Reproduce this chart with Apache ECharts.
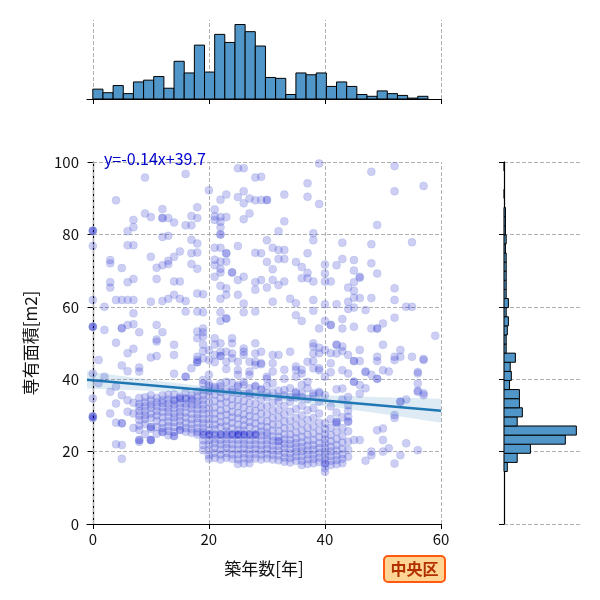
<!DOCTYPE html>
<html>
<head>
<meta charset="utf-8">
<script src="https://cdn.jsdelivr.net/npm/echarts@6/dist/echarts.min.js"></script>
<style>
  html, body { margin: 0; padding: 0; background: #fff; }
  #chart { width: 600px; height: 600px; }
</style>
</head>
<body>
<div id="chart"></div>
<script>
// --- data ---
const xTicks = [0, 20, 40, 60];
const regSlope = -0.14;
const regIntercept = 39.7;

// confidence band of the regression
const bandX  = [-1, 5, 10, 15, 20, 25, 30, 35, 40, 45, 50, 55, 60];
const bandLo = [37.4, 37.1, 36.8, 36.4, 35.9, 35.25, 34.5, 33.6, 32.6, 31.5, 30.4, 29.2, 28.0];
const bandHi = [42.2, 40.9, 39.8, 38.8, 37.9, 37.15, 36.5, 36.0, 35.6, 35.3, 35.0, 34.8, 34.6];

// marginal histograms
const topBinStart = 0;
const topBinWidth = 1.75;
const topCounts = [11, 7, 15, 6, 19, 21, 25, 12, 42, 29, 60, 30, 72, 63, 83, 75, 59, 24, 23, 5, 29, 27, 29, 14, 19, 14, 5, 3, 9, 6, 4, 1, 3];
const rightBinStart = 14.5;
const rightBinWidth = 2.515;
const rightCounts = [9, 36, 72, 167, 197, 36, 50, 42, 42, 15, 20, 17, 31, 6, 6, 9, 12, 6, 12, 6, 6, 6, 6, 6, 4, 6, 4, 4, 4, 0, 1, 0, 0, 1];

// scatter points, y >= 60
const ptsUpper = [
  [0,81],[0,81],[0,81],[0,76.8],[3,72.9],[3,72],[4,89.4],[5,70.7],[6,80.9],[6,77],[7,84],[7,82],[7,77],[9,95.7],[9,85.8],
  [10,84.8],[10,73.8],[11,70.8],[12,87],[12,84.5],[12,84.5],[12,79.3],[12,71.5],[13,84.5],[13,79.6],[13,72.7],[13,71.8],
  [14,83.3],[14,73.8],[15,75.3],[16,96.7],[16,82.5],[17,85.1],[17,82.5],[17,78.5],[17,74.8],[17,71.8],[18,87.5],[18,84.5],
  [18,77.5],[18,75],[18,70.5],[20,92.2],[21,86.9],[21,85],[21,84],[21,76.3],[21,73],[21,71.5],[22,89.6],[22,83.5],[22,84.8],
  [22,82],[22,80],[22,80],[22,76.3],[22,72.5],[22,70.5],[22,69.5],[23,91],[23,84.8],[23,74.8],[23,74.8],[23,72.5],[24,69.5],
  [24,69.5],[25,98.3],[25,90.3],[25,76.8],[26,98.3],[26,91.9],[26,88.6],[26,84.2],[27,89.9],[27,85.8],[28,95.7],[28,89.4],
  [28,74.9],[29,95.9],[29,89.5],[29,74.8],[30,89.5],[30,89.5],[30,78.4],[30,72.4],[31,76.3],[31,70.4],[32,80.9],[32,75.7],
  [32,73.2],[33,91],[33,83.6],[33,75.7],[33,73.2],[35,72.4],[36,71],[37,94.1],[37,90.4],[37,74.8],[37,69.4],[38,80.3],
  [38,78.4],[39,99.6],[39,88.4],[40,71.7],[40,69.2],[42,71.5],[43,77.7],[43,73.2],[45,72.9],[45,70],[46,68.3],[48,97.3],
  [48,77.3],[48,72],[49,82.6],[49,69.2],[52,98.9],[52,91.9],[52,65.1],[55,77.8],[57,93.4],
  [3,66.8],[3,65.3],[6,66.8],[7,67.7],[11,67.7],[14,67],[15,67],[21,68.3],[22,65.8],[23,65.1],[25,67.4],[26,68.3],[28,66.8],
  [29,67.4],[25,63.3],[26,60.9],[28,64.7],[0,61.9],[2,60],[4,61.9],[5,61.9],[6,61.9],[7,61.9],[10,61.4],[12,61.6],[13,62.2],
  [14,63.3],[15,62.2],[16,61.6],[18,63.7],[19,63.5],[22,62.2],[23,63.3],[31,67.4],[32,66],[30,65.3],[33,67],[36,67.9],
  [37,67.9],[38,67],[40,67],[41,67],[44,65.3],[45,66.8],[46,68],[45,64.4],[45,62.5],[46,62.4],[34,62.2],[31,61.4],[35,61],
  [38,61.9],[40,60.7],[42,60.7],[44,61.4],[48,62.4],[52,61.9],[54,60],[55,60]
];

// scatter points, 40 <= y < 60
const ptsMiddle = [
  [18,58.7],[19,58.5],[16,58.7],[7,58.2],[22,58.5],[23,56.8],[23,56.8],[22,56.1],[26,58.5],[28,58.7],
  [0,54.5],[0,54.5],[0,54.5],[2,53.6],[5,54.1],[5,54.1],[6,55],[7,55.2],[11,55],[12,53],[8,53],[4,50.1],[7,48.4],[6,47.2],
  [5,43.8],[1,45.3],[11,51],[11,50.4],[14,49.5],[14,46.7],[10,46],[8,43.2],[8,42.1],[14,41.5],[16,40.7],[16,40.7],[17,43],
  [18,46.2],[18,45.3],[18,44.7],[18,44.7],[19,54],[19,53],[19,51.8],[19,49.6],[19,47.8],[19,45.8],[18,53.2],[18,51.3],
  [20,48],[20,45.3],[20,41.2],[21,51.3],[21,49.6],[21,46.7],[21,44.7],[22,46.4],[22,46.4],[23,44.8],[23,42.8],[24,45.8],
  [24,51.3],[26,47.6],[27,44.8],[27,42.1],[29,44.1],[28,44.8],[29,47.6],[25,41.2],[27,41.2],[38,58.9],[44,59.4],[45,59.8],
  [47,59.1],[35,57.7],[36,56.1],[40,56.1],[41,55],[41,55],[43,56.6],[43,54],[45,54.5],[48,54],[49,54],[49,54],[50,55.4],
  [52,57],[59,52],[39,54],[38,49.9],[39,48.7],[40,48.1],[42,49.5],[42,49.5],[43,49],[43,47.8],[44,46.7],[45,45],[45,45],
  [46,45],[41,47.2],[41,44.4],[41,41.9],[39,47.2],[39,43],[38,45],[38,43],[36,42.6],[35,43.5],[35,42.6],[31,46.7],[34,47.6],
  [29,44.4],[30,40.1],[33,42.6],[33,40.1],[46,48.1],[47,42.1],[48,41.2],[49,40.1],[49,40.1],[50,49.5],[51,42.1],[52,46.2],
  [53,48.1],[55,46.2],[57,45.6],[49,46.2],[49,45],[56,41.6],[44,41.6],[11,46.4],[6,42.2],[22,49.9],[22,47.6],[23,47.6],
  [24,49.9],[24,47.1],[25,44.8],[25,42.5],[26,48.5],[26,46.7],[28,49.9],[28,47.1],[28,43.9],[30,40.7],[31,44.4],[31,42.1],
  [32,46.7],[35,40.7],[36,41.6],[37,44.8],[38,47.1],[38,49],[39,42.5],[40,40.7],[42,47.1],[43,42.5],[47,42],[50,42.5],
  [52,45.3],[53,46.2],[56,42],[57,45.3],[0,41.6],[2,40.7]
];

// scatter points, sparse part below 40
const ptsLower = [
  [0,34.7],[0,29.8],[0,29.6],[0,29.6],[0,29.2],[1,38.9],[3,30.5],[3,36.5],[4,37.9],[4,33.3],[4,28],[4,22],[5,35.6],[5,27.8],
  [5,27.8],[5,21.8],[5,18],[6,34.2],[6,31],[7,33.5],[7,30.5],[7,26.5],[45,39.3],[46,36],[56,38.8],[56,36.5],[56,36.8],
  [57,35.6],[57,36.1],[53,33.8],[53,33.8],[52,30.1],[52,29.3],[54,34.4],[50,23.2],[49,25.9],[48,20],[52,16.7],[54,22.3],
  [53,19],[50,26.4],[45,23.2],[46,23.2],[44,28.2],[44,29.6],[42,28.2],[42,28.2],[44,35.1],[44,32.8],[43,37.4],[46,38.4],
  [47,37.5],[42,37.2],[36,38.4],[37,39.3],[39,36.1],[35,36.1],[50,20],[51,20.9],[56,20.4],[48,19],[47,17.5],[45,39.3],
  [19,39.8],[20,38.8],[21,37.9],[22,38.8],[23,39.3],[24,37],[25,37.9],[26,39.3],[27,36.1],[28,37.9],[29,37],[30,36.1],
  [31,38.8],[32,35.1],[33,37],[34,35.1],[35,36.5],[36,35.1],[37,37.5],[38,36.1],[39,36.5],[40,35.6]
];

// dense block: year -> areas
const denseCols = [
  [8,  [34.8, 33.2, 32.4, 31.2, 30, 28.8, 27.2, 26, 23.2, 23.2, 22.7]],
  [9,  [35, 33.6, 32.5, 31.2, 30.1, 29, 27.6, 24.8]],
  [10, [35.6, 34.2, 33, 32.1, 30.5, 29.3, 26.8, 26.8, 26.3, 23.2, 23.2, 23.2]],
  [11, [34.8, 33.6, 32.5, 31.2, 30, 28.5, 26.8, 24.9]],
  [12, [35.5, 34.2, 33.4, 32.3, 31, 29.5, 28, 26.5, 25.4, 25.4]],
  [13, [35.7, 34.4, 33.3, 32.1, 31, 29.7, 28.3, 27, 25.7, 24.5]],
  [14, [35.8, 34.2, 34.2, 33, 32, 30.5, 29.5, 28.2, 26.8, 25.4, 24.3, 24.3]],
  [15, [35.2, 34.7, 34.7, 33.4, 32.2, 31, 29.8, 28.5, 27.2, 26, 26]],
  [16, [36.3, 34.7, 34.7, 33.3, 32.4, 30.8, 29.4, 28, 26.5, 25.5]],
  [17, [35.5, 34.2, 33, 32, 30.5, 29, 27.6, 26.3, 25.2, 34.7]],
  [18, [36.6, 35.2, 34, 33, 31.8, 30.4, 29.2, 28, 26.5, 25.4, 24.7]],
  [19, [38.8, 37, 35.5, 34.3, 33, 31.8, 30.5, 29, 27.8, 26.5, 25.4, 24.7, 24.7, 23.2, 21.8, 20.4]],
  [20, [38.2, 36.8, 35.5, 33.6, 32, 30.5, 29, 27.6, 26, 24.7, 24.7, 24.7, 23.2, 22, 20.5, 19, 18]],
  [21, [37.5, 35.8, 34, 32.2, 30.5, 29, 27.5, 26.2, 24.7, 24.7, 23.5, 22.3, 21, 19.6, 18.2]],
  [22, [38, 36.5, 34.8, 33.2, 31.4, 29.8, 28.2, 26.8, 24.7, 24.7, 24.7, 23.2, 22, 20.6, 19.2, 17.8]],
  [23, [37.2, 35.2, 33.6, 31.8, 30.2, 28.5, 27, 25.6, 24.7, 24.7, 23.5, 22.2, 21, 19.6, 18.3]],
  [24, [39, 36.5, 34.5, 32.8, 31, 29.5, 28, 26.4, 24.7, 24.7, 24.7, 23.4, 22, 20.7, 19.3, 18]],
  [25, [38.3, 36.2, 34.3, 32.5, 30.7, 29.2, 27.5, 26, 24.7, 24.7, 24.7, 24.7, 23.3, 22, 20.6, 19.3, 17.9, 16.6]],
  [26, [38.5, 36, 34, 32.2, 30.3, 28.8, 27.3, 25.8, 24.7, 24.7, 24.7, 23.3, 22.1, 20.8, 19.5, 18.2, 16.7]],
  [27, [37.5, 35.4, 33.4, 31.5, 29.8, 28.2, 26.8, 24.7, 24.7, 24.7, 23.2, 21.9, 20.6, 19.3, 18, 16.8]],
  [28, [38.2, 35.5, 33.2, 31.3, 29.5, 27.8, 26.2, 24.7, 24.7, 24.7, 23.3, 22, 20.7, 19.4, 18.1]],
  [29, [37.2, 34.4, 32.3, 30.5, 28.6, 27, 25.6, 24.5, 23.2, 21.8, 20.5, 19.2, 17.8]],
  [30, [38.1, 35, 32.5, 30.3, 28.4, 26.8, 25.3, 24.5, 23.2, 22, 20.7, 19.4, 18.1]],
  [31, [36.3, 33.5, 31.3, 29.3, 27.5, 25.8, 24.2, 23, 21.7, 20.4, 19.1, 17.8]],
  [32, [36.8, 33.8, 31.5, 29.5, 27.5, 25.7, 24.1, 22.9, 22.9, 21.6, 20.3, 19, 17.6]],
  [33, [35.6, 32.6, 30.3, 28.3, 26.5, 24.8, 23.4, 22.2, 21, 19.7, 18.4, 17.2]],
  [34, [37.5, 33.8, 31, 28.6, 26.6, 24.8, 23.3, 22.1, 20.8, 19.5, 18.2, 17]],
  [35, [35, 31.8, 29.3, 27.2, 25.3, 23.7, 22.4, 21.2, 20, 18.7, 17.5]],
  [36, [36.2, 32.7, 30, 27.8, 25.8, 24.1, 22.6, 21.3, 20.1, 18.8, 17.5, 16.3]],
  [37, [34.5, 31.4, 28.8, 26.6, 24.7, 23.1, 21.7, 20.4, 19.2, 17.9, 16.6]],
  [38, [35.5, 32, 29.3, 27, 25, 23.3, 21.8, 20.5, 19.2, 18, 16.8]],
  [39, [33.8, 30.5, 28, 25.8, 24, 22.4, 21, 19.7, 18.4, 17.1]],
  [40, [27.8, 26.3, 24.8, 23.5, 22.3, 21.1, 20, 18.9, 17.8, 16.7, 16.7, 15.5, 14.4]],
  [41, [32.5, 29, 26.6, 24.6, 22.9, 21.4, 20.1, 18.8, 17.5, 16.3]],
  [42, [30.8, 27.8, 25.5, 23.5, 21.8, 20.3, 19, 17.7, 16.5]],
  [43, [34.4, 29.5, 26.5, 24.3, 22.5, 20.8, 19.3, 18, 16.8]],
  [44, [31.2, 28.4, 25.6, 22.7, 20.5, 18.6]]
];

// --- build series data ---
const densePts = denseCols.flatMap(([x, ys]) => ys.map(y => [x, y]));
const scatterData = ptsUpper.concat(ptsMiddle, ptsLower, densePts);

const regData = [bandX[0], bandX[bandX.length - 1]].map(x => [x, regIntercept + regSlope * x]);
const bandData = bandX.map((x, i) => [x, bandLo[i], bandHi[i]]);

const topBins = topCounts.map((c, i) => [topBinStart + i * topBinWidth, topBinStart + (i + 1) * topBinWidth, c]);
const rightBins = rightCounts.map((c, i) => [rightBinStart + i * rightBinWidth, rightBinStart + (i + 1) * rightBinWidth, c]);

const FONT = '"Noto Sans CJK JP", "Noto Sans", sans-serif';
const gridDash = { type: [4, 2], color: '#b0b0b0', width: 1 };
const barFill = '#5096c8';

const vGridLines = {
  silent: true,
  z: 1,
  symbol: 'none',
  label: { show: false },
  emphasis: { disabled: true },
  lineStyle: gridDash,
  data: xTicks.map(v => ({ xAxis: v }))
};

const chart = echarts.init(document.getElementById('chart'));

chart.setOption({
  animation: false,
  backgroundColor: '#fff',
  textStyle: { fontFamily: FONT },
  grid: [
    { left: 87, top: 162, width: 354, height: 362 },
    { left: 87, top: 20, width: 354, height: 79 },
    { left: 504, top: 162, width: 76, height: 362 }
  ],
  xAxis: [
    {
      gridIndex: 0, type: 'value', min: -1, max: 60,
      name: '築年数[年]', nameLocation: 'middle', nameGap: 36,
      nameTextStyle: { fontSize: 17, color: '#111', fontFamily: FONT },
      axisLine: { lineStyle: { color: '#000', width: 1.2 } },
      axisTick: { show: true, length: 5, customValues: xTicks, lineStyle: { color: '#000' } },
      axisLabel: { customValues: xTicks, fontSize: 15, color: '#111', margin: 8, fontFamily: FONT },
      splitLine: { show: false }
    },
    {
      gridIndex: 1, type: 'value', min: -1, max: 60,
      axisLine: { lineStyle: { color: '#000', width: 1.2 } },
      axisTick: { show: true, length: 5, customValues: xTicks, lineStyle: { color: '#000' } },
      axisLabel: { show: false },
      splitLine: { show: false }
    },
    {
      gridIndex: 2, type: 'value', min: 0, max: 207, show: false,
      splitLine: { show: false }
    }
  ],
  yAxis: [
    {
      gridIndex: 0, type: 'value', min: 0, max: 100, interval: 20,
      name: '専有面積[m2]', nameLocation: 'middle', nameGap: 48, nameRotate: 90,
      nameTextStyle: { fontSize: 17, color: '#111', fontFamily: FONT },
      axisLine: { show: true, lineStyle: { color: '#000', width: 1.2 } },
      axisTick: { show: true, length: 5, lineStyle: { color: '#000' } },
      axisLabel: { fontSize: 15, color: '#111', margin: 8, fontFamily: FONT },
      splitLine: { show: true, lineStyle: gridDash }
    },
    {
      gridIndex: 1, type: 'value', min: 0, max: 88, show: false,
      splitLine: { show: false }
    },
    {
      gridIndex: 2, type: 'value', min: 0, max: 100, interval: 20,
      axisLine: { show: true, lineStyle: { color: '#000', width: 1.2 } },
      axisTick: { show: true, length: 5, lineStyle: { color: '#000' } },
      axisLabel: { show: false },
      splitLine: { show: true, lineStyle: gridDash }
    }
  ],
  series: [
    {
      type: 'scatter', xAxisIndex: 0, yAxisIndex: 0,
      data: scatterData,
      symbolSize: 8,
      itemStyle: {
        color: 'rgba(0,0,205,0.24)',
        borderColor: 'rgba(140,165,220,0.35)',
        borderWidth: 1
      },
      emphasis: { disabled: true },
      markLine: vGridLines,
      z: 2
    },
    {
      // confidence band: one polygon through all band points
      type: 'custom', xAxisIndex: 0, yAxisIndex: 0,
      data: bandData,
      encode: { x: 0, y: [1, 2] },
      renderItem: (params, api) => {
        if (params.dataIndex !== 0) return null;
        const upper = bandData.map(d => api.coord([d[0], d[2]]));
        const lower = bandData.map(d => api.coord([d[0], d[1]])).reverse();
        return {
          type: 'polygon',
          shape: { points: upper.concat(lower) },
          style: { fill: 'rgba(31,119,180,0.15)' }
        };
      },
      silent: true, z: 3
    },
    {
      type: 'line', xAxisIndex: 0, yAxisIndex: 0,
      data: regData, symbol: 'none',
      lineStyle: { color: '#1f77b4', width: 2.5 },
      silent: true, z: 4
    },
    {
      type: 'custom', xAxisIndex: 1, yAxisIndex: 1,
      data: topBins,
      encode: { x: [0, 1], y: 2 },
      renderItem: (params, api) => {
        if (!api.value(2)) return null;
        const p0 = api.coord([api.value(0), 0]);
        const p1 = api.coord([api.value(1), api.value(2)]);
        return {
          type: 'rect',
          shape: { x: p0[0], y: p1[1], width: p1[0] - p0[0], height: p0[1] - p1[1] },
          style: { fill: barFill, stroke: '#000', lineWidth: 1 }
        };
      },
      markLine: vGridLines,
      silent: true, z: 2
    },
    {
      type: 'custom', xAxisIndex: 2, yAxisIndex: 2,
      data: rightBins,
      encode: { x: 2, y: [0, 1] },
      renderItem: (params, api) => {
        if (!api.value(2)) return null;
        const p0 = api.coord([0, api.value(0)]);
        const p1 = api.coord([api.value(2), api.value(1)]);
        return {
          type: 'rect',
          shape: { x: p0[0], y: p1[1], width: p1[0] - p0[0], height: p0[1] - p1[1] },
          style: { fill: barFill, stroke: '#000', lineWidth: 1 }
        };
      },
      silent: true, z: 2
    }
  ],
  graphic: [
    {
      type: 'text', left: 104, top: 151, z: 10,
      style: { text: 'y=-0.14x+39.7', fill: '#0000cd', font: '16px ' + FONT }
    },
    {
      type: 'group', left: 383, top: 555, z: 10,
      children: [
        {
          type: 'rect',
          shape: { x: 0, y: 0, width: 61, height: 26, r: 4 },
          style: { fill: '#ffd596', stroke: '#ff5a10', lineWidth: 2 }
        },
        {
          type: 'text', x: 30.5, y: 13,
          style: {
            text: '中央区', fill: '#b23000',
            font: 'bold 16px ' + FONT,
            align: 'center', verticalAlign: 'middle'
          }
        }
      ]
    }
  ]
});
</script>
</body>
</html>
